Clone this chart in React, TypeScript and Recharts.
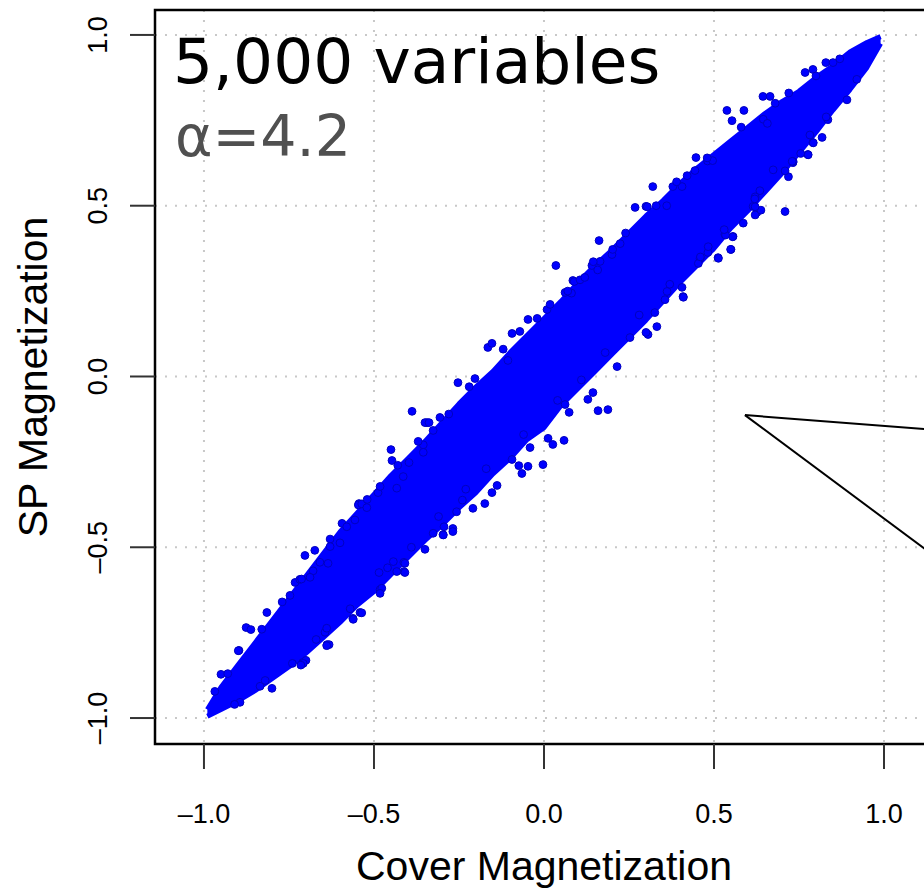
// @ts-nocheck
import React from 'react';
import {
  ComposedChart,
  Area,
  Scatter,
  XAxis,
  YAxis,
  CartesianGrid,
  ReferenceLine,
  ReferenceArea,
} from 'recharts';

// axis ticks
const xTicks = [-1, -0.5, 0, 0.5, 1];
const yTicks = [-1, -0.5, 0, 0.5, 1];

// dense core of the cloud (lower / upper edge per x)
const bandX = [
  -0.99, -0.95, -0.9, -0.85, -0.8, -0.75, -0.7, -0.65, -0.6, -0.55, -0.5, -0.45, -0.4, -0.35,
  -0.3, -0.25, -0.2, -0.15, -0.1, -0.05, 0, 0.05, 0.1, 0.15, 0.2, 0.25, 0.3, 0.35, 0.4, 0.45,
  0.5, 0.55, 0.6, 0.65, 0.7, 0.75, 0.8, 0.85, 0.9, 0.95, 0.99,
];
const bandLow = [
  -0.995, -0.975, -0.95, -0.92, -0.885, -0.85, -0.81, -0.765, -0.72, -0.67, -0.63, -0.58, -0.53,
  -0.48, -0.435, -0.385, -0.34, -0.285, -0.24, -0.185, -0.15, -0.085, -0.035, 0.015, 0.065,
  0.115, 0.165, 0.22, 0.275, 0.325, 0.375, 0.435, 0.485, 0.54, 0.595, 0.655, 0.715, 0.78, 0.84,
  0.905, 0.975,
];
const bandHigh = [
  -0.975, -0.91, -0.845, -0.78, -0.715, -0.65, -0.585, -0.52, -0.455, -0.4, -0.345, -0.29, -0.24,
  -0.19, -0.135, -0.08, -0.03, 0.015, 0.07, 0.12, 0.17, 0.22, 0.275, 0.325, 0.37, 0.42, 0.47,
  0.515, 0.565, 0.61, 0.65, 0.69, 0.73, 0.77, 0.805, 0.835, 0.875, 0.91, 0.95, 0.978, 0.995,
];

// single points around the core (x = cover, y = SP)
const cloudPoints = [
  [-0.968, -0.922], [-0.95, -0.872], [-0.897, -0.802], [-0.876, -0.735], [-0.862, -0.741],
  [-0.815, -0.691], [-0.747, -0.641], [-0.732, -0.603], [-0.718, -0.594], [-0.703, -0.524],
  [-0.674, -0.509], [-0.659, -0.544], [-0.635, -0.547], [-0.894, -0.954], [-0.835, -0.907],
  [-0.8, -0.913], [-0.709, -0.837], [-0.7, -0.831], [-0.638, -0.785], [-0.632, -0.785],
  [-0.644, -0.749], [-0.562, -0.708], [-0.541, -0.691], [-0.594, -0.43], [-0.544, -0.372],
  [-0.488, -0.34], [-0.482, -0.322], [-0.45, -0.214], [-0.447, -0.246], [-0.388, -0.102],
  [-0.344, -0.135], [-0.306, -0.12], [-0.326, -0.158], [-0.253, -0.018], [-0.203, -0.006],
  [-0.165, 0.085], [-0.153, 0.097], [-0.106, 0.047], [-0.094, 0.126], [-0.071, 0.132],
  [-0.047, 0.167], [-0.482, -0.624], [-0.485, -0.574], [-0.412, -0.571], [-0.35, -0.506],
  [-0.412, -0.544], [-0.297, -0.463], [-0.268, -0.445], [-0.268, -0.454], [-0.209, -0.386],
  [-0.174, -0.372], [-0.138, -0.319], [-0.153, -0.34], [-0.094, -0.243], [-0.065, -0.284],
  [-0.047, -0.263], [-0.074, -0.261], [-0.041, -0.208], [-0.003, -0.258], [0.012, -0.181],
  [0.026, -0.199], [0.059, -0.187], [0.074, -0.105], [0.062, -0.082], [0.129, -0.067],
  [0.144, -0.047], [0.159, -0.1], [0.188, -0.097], [0.215, 0.029], [0.009, 0.196],
  [0.018, 0.211], [0.035, 0.325], [0.062, 0.246], [0.085, 0.281], [0.141, 0.325],
  [0.165, 0.337], [0.162, 0.398], [0.2, 0.357], [0.224, 0.389], [0.268, 0.495], [0.3, 0.498],
  [0.32, 0.556], [0.379, 0.556], [0.406, 0.556], [0.421, 0.588], [0.444, 0.603],
  [0.447, 0.641], [0.538, 0.779], [0.553, 0.749], [0.588, 0.779], [0.644, 0.82], [0.665, 0.82],
  [0.768, 0.89], [0.791, 0.899], [0.829, 0.919], [0.85, 0.919], [0.253, 0.114], [0.306, 0.123],
  [0.3, 0.129], [0.332, 0.146], [0.326, 0.187], [0.356, 0.225], [0.362, 0.249], [0.409, 0.234],
  [0.406, 0.261], [0.482, 0.363], [0.512, 0.348], [0.55, 0.372], [0.556, 0.41], [0.532, 0.416],
  [0.615, 0.498], [0.626, 0.48], [0.709, 0.483], [0.732, 0.626], [0.776, 0.65], [0.791, 0.685],
  [0.818, 0.7], [0.835, 0.752], [0.891, 0.81],
  // halo, lower-left half
  [-0.35, -0.135], [-0.338, -0.135], [-0.355, -0.2], [-0.355, -0.222], [-0.397, -0.252],
  [-0.433, -0.327], [-0.414, -0.293], [-0.546, -0.376], [-0.536, -0.373], [-0.521, -0.384],
  [-0.556, -0.42], [-0.629, -0.476], [-0.629, -0.498], [-0.6, -0.487], [-0.679, -0.569],
  [-0.688, -0.588], [-0.713, -0.593], [-0.899, -0.803], [-0.409, -0.547], [-0.409, -0.574],
  [-0.433, -0.571], [-0.443, -0.542], [-0.477, -0.62], [-0.482, -0.635], [-0.536, -0.692],
  [-0.561, -0.711], [-0.639, -0.788], [-0.708, -0.84], [-0.715, -0.845], [-0.639, -0.737],
  [-0.296, -0.464], [-0.294, -0.44], [-0.257, -0.396], [-0.24, -0.362], [-0.326, -0.459],
  // halo, upper-right half
  [0.645, 0.753], [0.657, 0.741], [0.481, 0.631], [0.496, 0.632], [0.304, 0.497], [0.361, 0.5],
  [0.089, 0.278], [0.106, 0.283], [0.081, 0.244], [0.145, 0.336], [0.158, 0.312], [0.202, 0.372],
  [0.621, 0.473], [0.638, 0.487], [0.621, 0.497], [0.586, 0.449], [0.555, 0.409], [0.549, 0.372],
  [0.513, 0.346], [0.534, 0.414], [0.483, 0.38], [0.459, 0.346], [0.454, 0.331], [0.41, 0.232],
  [0.777, 0.649], [0.755, 0.653], [0.792, 0.684], [0.782, 0.707], [0.719, 0.585], [0.709, 0.602],
  [0.733, 0.629], [0.674, 0.605], [0.635, 0.544], [0.621, 0.526],
  // ragged edge of the core
  [-0.93, -0.87], [-0.83, -0.74], [-0.77, -0.66], [-0.58, -0.44], [-0.52, -0.36], [-0.43, -0.26],
  [-0.37, -0.19], [-0.28, -0.11], [-0.22, -0.03], [-0.12, 0.08], [-0.02, 0.17], [0.07, 0.25],
  [0.12, 0.29], [0.24, 0.42], [0.33, 0.5], [0.39, 0.57], [0.48, 0.64], [0.58, 0.73], [0.68, 0.8],
  [0.72, 0.83], [0.8, 0.88], [0.87, 0.93], [-0.91, -0.96], [-0.82, -0.89], [-0.74, -0.84],
  [-0.67, -0.77], [-0.57, -0.68], [-0.46, -0.56], [-0.39, -0.5], [-0.31, -0.41], [-0.23, -0.33],
  [-0.17, -0.27], [-0.06, -0.17], [0.04, -0.07], [0.11, -0.01], [0.18, 0.07], [0.28, 0.18],
  [0.37, 0.27], [0.46, 0.35], [0.53, 0.43], [0.62, 0.52], [0.73, 0.63], [0.83, 0.76], [0.92, 0.87],
];

// pointer toward the (cropped) inset on the right
const calloutApex = { x: 0.591, y: -0.113 };
const calloutEnds = [
  { x: 1.2, y: -0.16 },
  { x: 1.2, y: -0.564 },
];

const X_DOMAIN = [-1.144, 1.3];
const Y_DOMAIN = [-1.076, 1.073];

const bandRows = bandX.map((x, i) => ({ x, band: [bandLow[i], bandHigh[i]] }));
const scatterRows = cloudPoints.map(([x, y]) => ({ x, y }));

const fmt = (v: number) => (v < 0 ? '\u2013' + Math.abs(v).toFixed(1) : v.toFixed(1));

const XTick = ({ x, y, payload }: any) => (
  <g>
    <line x1={x} y1={y} x2={x} y2={y + 25} stroke="#333" strokeWidth={2} />
    <text x={x} y={y + 79} textAnchor="middle" fontFamily="Liberation Sans, Arial" fontSize={27} fill="#000">
      {fmt(payload.value)}
    </text>
  </g>
);

const YTick = ({ x, y, payload }: any) => (
  <g>
    <line x1={x - 25} y1={y} x2={x} y2={y} stroke="#333" strokeWidth={2} />
    <text
      x={x - 48}
      y={y}
      transform={`rotate(-90 ${x - 48} ${y})`}
      textAnchor="middle"
      fontFamily="Liberation Sans, Arial"
      fontSize={27}
      fill="#000"
    >
      {fmt(payload.value)}
    </text>
  </g>
);

const Dot = ({ cx, cy }: any) => (
  <circle cx={cx} cy={cy} r={3.9} fill="#0000ff" stroke="#0000c0" strokeWidth={1} />
);

export default function App() {
  return (
    <div style={{ position: 'absolute', left: 0, top: 0, width: 924, height: 890, overflow: 'hidden', background: '#fff' }}>
      <ComposedChart width={1000} height={890} data={bandRows} margin={{ top: 10, right: 14, bottom: 0, left: 0 }}>
        <CartesianGrid stroke="#c8c8c8" strokeWidth={2} strokeDasharray="2 8" />
        <XAxis
          type="number"
          dataKey="x"
          domain={X_DOMAIN}
          ticks={xTicks}
          interval={0}
          allowDataOverflow
          height={146}
          axisLine={false}
          tickLine={false}
          tickSize={0}
          tickMargin={0}
          tick={<XTick />}
        />
        <YAxis
          type="number"
          domain={Y_DOMAIN}
          ticks={yTicks}
          interval={0}
          allowDataOverflow
          width={155}
          axisLine={false}
          tickLine={false}
          tickSize={0}
          tickMargin={0}
          tick={<YTick />}
        />
        <Area
          type="linear"
          dataKey="band"
          fill="#0000ff"
          fillOpacity={1}
          stroke="#0000ff"
          strokeWidth={5}
          strokeLinejoin="round"
          dot={false}
          activeDot={false}
          isAnimationActive={false}
        />
        <Scatter data={scatterRows} dataKey="y" shape={<Dot />} isAnimationActive={false} />
        {calloutEnds.map((end, i) => (
          <ReferenceLine key={i} segment={[calloutApex, end]} stroke="#000" strokeWidth={2} ifOverflow="visible" />
        ))}
        <ReferenceArea
          x1={X_DOMAIN[0]}
          x2={X_DOMAIN[1]}
          y1={Y_DOMAIN[0]}
          y2={Y_DOMAIN[1]}
          fill="none"
          fillOpacity={0}
          stroke="#000"
          strokeWidth={2.5}
          ifOverflow="visible"
        />
      </ComposedChart>
      <svg width={924} height={890} style={{ position: 'absolute', left: 0, top: 0, pointerEvents: 'none' }}>
        <text x={173} y={83} fontFamily="DejaVu Sans" fontSize={63} fill="#000">
          5,000 variables
        </text>
        <text x={175} y={156} fontFamily="DejaVu Sans" fontSize={57} fill="#505050">
          α=4.2
        </text>
        <text x={544} y={880} textAnchor="middle" fontFamily="Liberation Sans, Arial" fontSize={41} fill="#000">
          Cover Magnetization
        </text>
        <text
          x={47}
          y={377}
          transform="rotate(-90 47 377)"
          textAnchor="middle"
          fontFamily="Liberation Sans, Arial"
          fontSize={41}
          fill="#000"
        >
          SP Magnetization
        </text>
      </svg>
    </div>
  );
}
